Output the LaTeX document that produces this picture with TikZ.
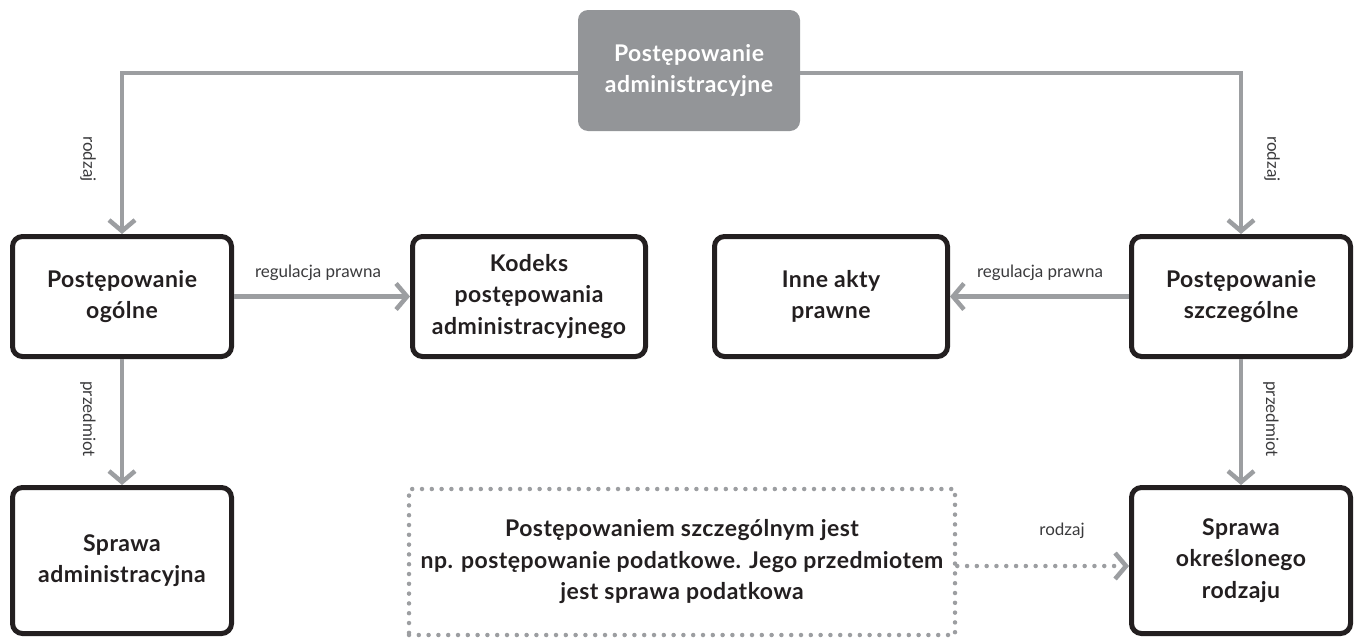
\documentclass[tikz,border=0pt]{standalone}
\usepackage{fontspec}
\setmainfont{Lato}
\newfontfamily\boxfont{Lato}[LetterSpace=2]
\newfontfamily\labfont{Lato}
\usetikzlibrary{arrows.meta}
\definecolor{arrgray}{HTML}{9C9EA1}
\definecolor{topgray}{HTML}{939598}
\definecolor{ink}{HTML}{231F20}
\definecolor{labink}{HTML}{3A3A3C}
\tikzset{
  box/.style={draw=ink, line width=5pt, rounded corners=10pt, align=center,
    text=ink, font=\boxfont\bfseries\fontsize{23}{31.5}\selectfont, inner sep=0pt},
  topbox/.style={fill=topgray, rounded corners=10pt, align=center, text=white,
    font=\boxfont\bfseries\fontsize{23}{31.5}\selectfont, inner sep=0pt,
    minimum width=222pt, minimum height=121pt},
  dotbox/.style={draw=arrgray, line width=4.5pt, dash pattern=on 0pt off 9.8pt,
    line cap=round, align=center, text=ink,
    font=\boxfont\bfseries\fontsize{23}{31.5}\selectfont, inner sep=0pt},
  arr/.style={draw=arrgray, line width=4.5pt,
    -{Straight Barb[length=11pt,width=26pt]}},
  dotarr/.style={draw=arrgray, line width=4.5pt, dash pattern=on 0pt off 9.8pt,
    line cap=round, -{Straight Barb[length=11pt,width=26pt,line width=4.5pt]}},
  lab/.style={text=labink, font=\labfont\fontsize{17}{20}\selectfont, inner sep=0pt}
}
\begin{document}
\begin{tikzpicture}[x=1pt,y=-1pt]
\useasboundingbox (0,0) rectangle (1359,637);
% nodes
\node[topbox] (top) at (689,70.5) {Postępowanie\\administracyjne};
\node[box, minimum width=219pt, minimum height=120pt] (og) at (122,296.5) {Postępowanie\\ogólne};
\node[box, minimum width=233pt, minimum height=120pt] (kpa) at (529,296.5) {Kodeks\\postępowania\\administracyjnego};
\node[box, minimum width=233pt, minimum height=120pt] (inne) at (831,296.5) {Inne akty\\prawne};
\node[box, minimum width=219pt, minimum height=120pt] (sz) at (1241,296.5) {Postępowanie\\szczególne};
\node[box, minimum width=219pt, minimum height=146pt] (sa) at (122,560.5) {Sprawa\\administracyjna};
\node[box, minimum width=219pt, minimum height=146pt] (sor) at (1241,560.5) {Sprawa\\określonego\\rodzaju};
\node[dotbox, minimum width=546pt, minimum height=146pt] (dot) at (682,562) {Postępowaniem szczególnym jest\\np. postępowanie podatkowe. Jego przedmiotem\\jest sprawa podatkowa};
% connectors
\draw[arr] ([yshift=-2.5pt]top.west) -| (og.north);
\draw[arr] ([yshift=-2.5pt]top.east) -| (sz.north);
\draw[arr] (og.east) -- (kpa.west);
\draw[arr] (sz.west) -- (inne.east);
\draw[arr] (og.south) -- (sa.north);
\draw[arr] (sz.south) -- (sor.north);
\draw[dotarr] ([yshift=-4pt]dot.east) -- ([yshift=-4pt]dot.east -| sor.west);
% labels
\node[lab, rotate=-90] (l1) at (88,159) {rodzaj};
\node[lab, rotate=-90] (l2) at (1272,159) {rodzaj};
\node[lab] (l3) at (318,273) {regulacja prawna};
\node[lab] (l4) at (1040,273) {regulacja prawna};
\node[lab, rotate=-90] (l5) at (88,419) {przedmiot};
\node[lab, rotate=-90] (l6) at (1271,419) {przedmiot};
\node[lab] (l7) at (1062,531) {rodzaj};
\end{tikzpicture}
\end{document}
